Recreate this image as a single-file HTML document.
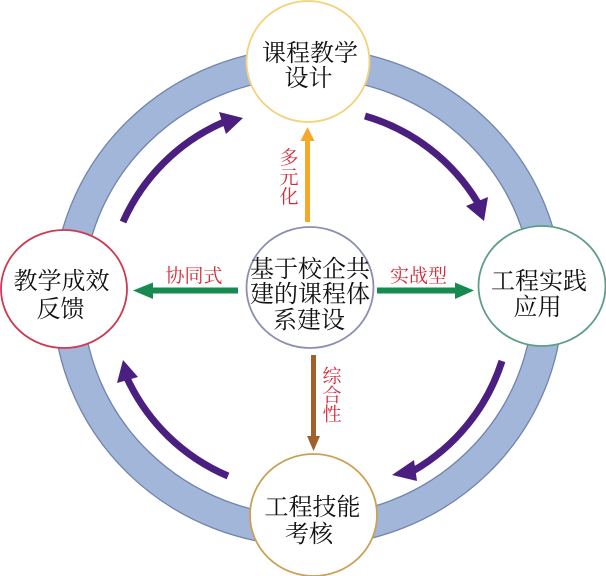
<!DOCTYPE html>
<html>
<head>
<meta charset="utf-8">
<style>
html,body{margin:0;padding:0;background:#fff;}
svg{display:block;}
.t{font-family:"Liberation Serif","Noto Serif CJK SC",serif;font-size:24px;fill:#111;text-anchor:middle;}
.r{font-family:"Liberation Serif","Noto Serif CJK SC",serif;font-size:19px;fill:#d42a3a;text-anchor:middle;}
</style>
</head>
<body>
<svg width="606" height="576" viewBox="0 0 606 576" xmlns="http://www.w3.org/2000/svg">
  <!-- ring -->
  <ellipse cx="308" cy="297" rx="255" ry="249" fill="#a2b6da" stroke="#7084ad" stroke-width="1.3"/>
  <ellipse cx="308" cy="297" rx="225" ry="219" fill="#ffffff" stroke="#7084ad" stroke-width="1.3"/>

  <!-- purple curved arrows -->
  <g fill="none" stroke="#4a1f7f" stroke-width="7">
    <path d="M123,222 A195,195 0 0 1 224,122"/>
    <path d="M365,116 A195,195 0 0 1 478,203"/>
    <path d="M502,361 A195,195 0 0 1 413,471"/>
    <path d="M228,476 A195,195 0 0 1 127,378"/>
  </g>
  <g fill="#4a1f7f">
    <polygon points="219,112 243,118 226,134"/>
    <polygon points="466,206 484,221 488,197"/>
    <polygon points="414,460 392,475 417,481"/>
    <polygon points="117,383 123,360 138,377"/>
  </g>

  <!-- straight arrows -->
  <rect x="305" y="139" width="5" height="83" fill="#f5a82a"/>
  <polygon points="300.5,141 307.5,127 314.5,141" fill="#f5a82a"/>

  <rect x="311" y="355" width="5" height="83" fill="#a0612a"/>
  <polygon points="307,436 313.5,451 320,436" fill="#a0612a"/>

  <rect x="150" y="287.5" width="88" height="6" fill="#178a52"/>
  <polygon points="153,282.5 133,290.5 153,299" fill="#178a52"/>

  <rect x="377" y="287.5" width="80" height="6" fill="#178a52"/>
  <polygon points="455,282.5 474,290.5 455,299" fill="#178a52"/>

  <!-- circles -->
  <ellipse cx="308" cy="61.5" rx="61.5" ry="60.5" fill="#fff" stroke="#f2d27a" stroke-width="1.8"/>
  <ellipse cx="310" cy="287.5" rx="63.5" ry="60.5" fill="#fff" stroke="#8d8fb0" stroke-width="1.8"/>
  <ellipse cx="64" cy="289" rx="63" ry="59" fill="#fff" stroke="#cc3a55" stroke-width="1.8"/>
  <ellipse cx="542" cy="286" rx="63.5" ry="60" fill="#fff" stroke="#5f9e86" stroke-width="1.8"/>
  <ellipse cx="313.5" cy="515" rx="63.5" ry="61" fill="#fff" stroke="#c9a055" stroke-width="1.8"/>

  <!-- node text -->
  <text class="t" x="310" y="61">课程教学</text>
  <text class="t" x="308.5" y="86">设计</text>

  <text class="t" x="310" y="277">基于校企共</text>
  <text class="t" x="310" y="302">建的课程体</text>
  <text class="t" x="309" y="328">系建设</text>

  <text class="t" x="61.5" y="289">教学成效</text>
  <text class="t" x="60.5" y="317">反馈</text>

  <text class="t" x="539" y="289">工程实践</text>
  <text class="t" x="537.5" y="315">应用</text>

  <text class="t" x="312.5" y="515">工程技能</text>
  <text class="t" x="309" y="542">考核</text>

  <!-- labels -->
  <text class="r" x="194" y="282">协同式</text>
  <text class="r" x="418.5" y="282">实战型</text>

  <text class="r" x="289" y="164">多</text>
  <text class="r" x="289" y="183.5">元</text>
  <text class="r" x="289" y="203">化</text>

  <text class="r" x="332" y="382.5">综</text>
  <text class="r" x="332" y="401.5">合</text>
  <text class="r" x="332" y="420.5">性</text>
</svg>
</body>
</html>
